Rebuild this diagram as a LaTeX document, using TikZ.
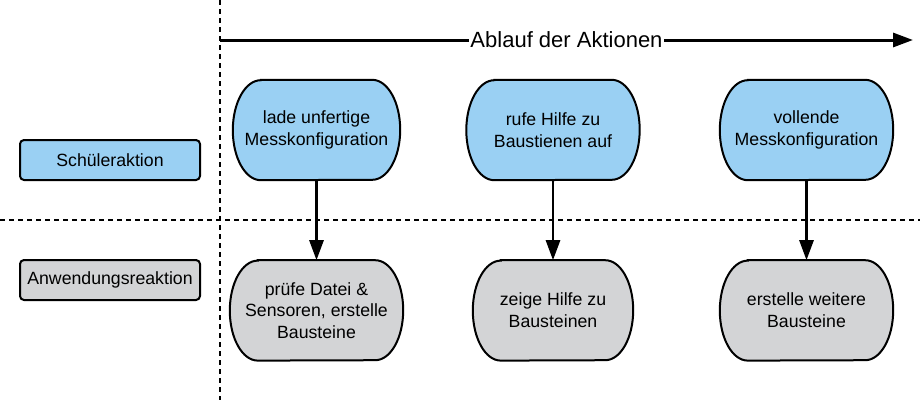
\documentclass[tikz,border=0pt]{standalone}
\usepackage{fontspec}
\setmainfont{Liberation Sans}
\usepackage{tikz}
\usetikzlibrary{arrows.meta, positioning, calc, backgrounds}
\definecolor{schuelerblau}{RGB}{154,208,243}
\definecolor{appgrau}{RGB}{211,212,214}

\begin{document}
\begin{tikzpicture}[
  x=1pt, y=-1pt,
  node distance=80pt,
  lane/.style={line width=1.6pt, dash pattern=on 5pt off 4pt},
  rolle/.style={rectangle, rounded corners=4pt, draw, line width=2pt,
                minimum width=180pt, minimum height=40pt,
                font=\fontsize{17.7}{21.7}\selectfont},
  aktion/.style={draw=none, align=center, minimum width=173pt, minimum height=100pt,
                 inner sep=0pt, font=\fontsize{17.7}{21.7}\selectfont},
  pfeil/.style={-{Triangle[length=20pt, width=14pt]}, line width=2.7pt},
  umriss/.style={line width=2pt}
]
\useasboundingbox (0,0) rectangle (920,400);
% Bahnen
\coordinate (vlo) at (220,0);
\coordinate (vlu) at (220,400);
\coordinate (hll) at (0,220);
\coordinate (hlr) at (920,220);
\draw[lane] (vlo) -- (vlu);
\draw[lane] (hll) -- (hlr);
% Zeitachse
\coordinate (zeit0) at (220,40);
\coordinate (zeit1) at (913,40);
\draw[pfeil, line width=3pt] (zeit0) -- node[fill=white, inner sep=1pt,
  font=\fontsize{22}{26}\selectfont] (ablauf) {Ablauf der Aktionen} (zeit1);
% Rollen
\node[rolle, fill=schuelerblau] (schueler) at (110,160) {Schüleraktion};
\node[rolle, fill=appgrau] (anwendung) at (110,280) {Anwendungsreaktion};
% Aktionen und Reaktionen
\node[aktion, minimum width=167pt] (a1) at (316.5,130) {lade unfertige\\Messkonfiguration};
\node[aktion] (a2) at (553,130) {rufe Hilfe zu\\Baustienen auf};
\node[aktion] (a3) at (806.5,130) {vollende\\Messkonfiguration};
\node[aktion, below=of a1] (r1) {prüfe Datei \&\\Sensoren, erstelle\\Bausteine};
\node[aktion, minimum width=160pt, below=of a2] (r2) {zeige Hilfe zu\\Bausteinen};
\node[aktion, below=of a3] (r3) {erstelle weitere\\Bausteine};
\begin{scope}[on background layer]
\foreach \n/\c in {a1/schuelerblau, a2/schuelerblau, a3/schuelerblau,
                   r1/appgrau, r2/appgrau, r3/appgrau}
  \draw[umriss, fill=\c] ($(\n.north west)+(28,0)$) -- ($(\n.north east)+(-28,0)$)
    arc[start angle=-90, end angle=90, x radius=28, y radius=50]
    -- ($(\n.south west)+(28,0)$)
    arc[start angle=90, end angle=270, x radius=28, y radius=50] -- cycle;
\end{scope}
\draw[pfeil] (a1) -- (r1);
\draw[pfeil] (a2) -- (r2);
\draw[pfeil] (a3) -- (r3);
\end{tikzpicture}
\end{document}
